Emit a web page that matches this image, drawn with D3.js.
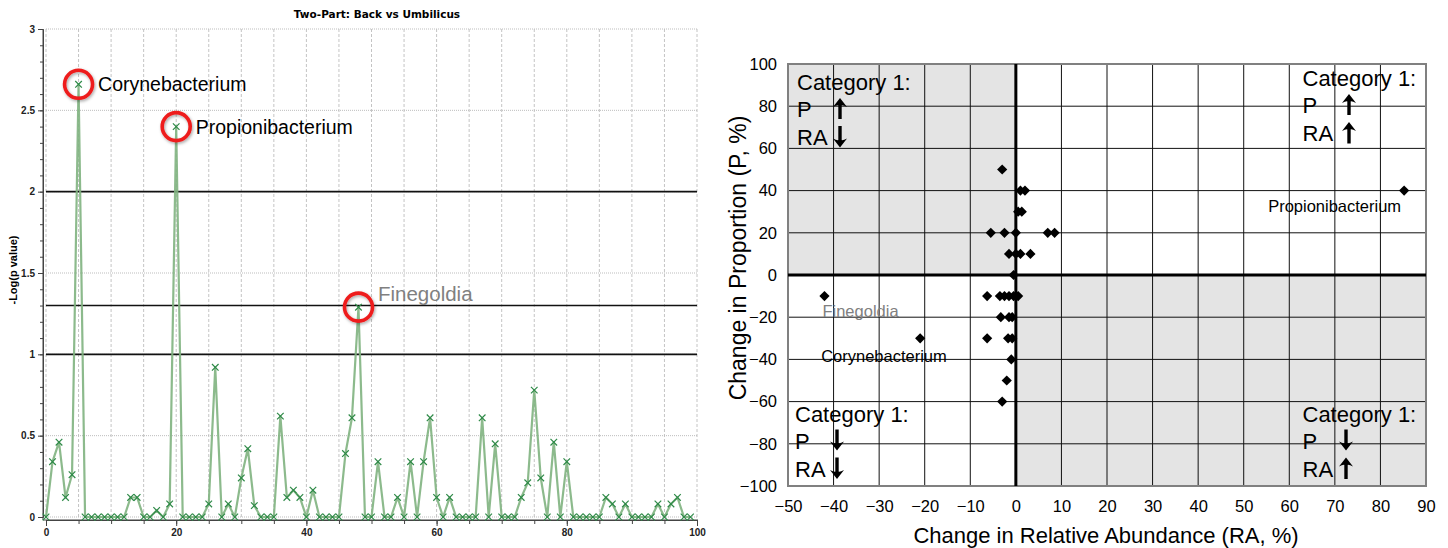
<!DOCTYPE html>
<html>
<head>
<meta charset="utf-8">
<script src="https://cdn.jsdelivr.net/npm/d3@7"></script>
<style>
  html, body { margin: 0; padding: 0; background: #fff; }
  svg { display: block; }
</style>
</head>
<body>
<div id="chart"></div>
<script>
// ---- left chart data: -Log(p value) per genus index ----
const leftTitle = "Two-Part: Back vs Umbilicus";
const pValues = [
  0, 0.34, 0.46, 0.12, 0.26, 2.66, 0, 0, 0, 0,
  0, 0, 0, 0.12, 0.12, 0, 0, 0.04, 0, 0.08,
  2.4, 0, 0, 0, 0, 0.08, 0.92, 0, 0.08, 0,
  0.24, 0.42, 0.07, 0, 0, 0, 0.62, 0.12, 0.165, 0.12,
  0, 0.165, 0, 0, 0, 0, 0.39, 0.61, 1.29, 0,
  0, 0.34, 0, 0, 0.12, 0, 0.34, 0, 0.34, 0.61,
  0.12, 0, 0.12, 0, 0, 0, 0, 0.61, 0, 0.45,
  0, 0, 0, 0.12, 0.21, 0.78, 0.24, 0, 0.46, 0,
  0.34, 0, 0, 0, 0, 0, 0.12, 0.08, 0, 0.08,
  0, 0, 0, 0, 0.08, 0, 0.08, 0.12, 0, 0
];
const thresholds = [2, 1.3, 1];
const highlightIdx = [5, 20, 48];
const highlightNames = ["Corynebacterium", "Propionibacterium", "Finegoldia"];
const highlightColors = ["#000", "#000", "#808080"];
const leftXTicks = [0, 20, 40, 60, 80, 100];

// ---- right chart data: change in RA vs change in P ----
const raChange = [
  -3, 1, 2, 0.5, 1.3, -5.5, -2.5, 0, 7, 8.5,
  -1.5, 0, 1, 3.2, -0.5, -6.3, -3.5, -2.5, -1.5, -0.5,
  0.5, -42, -3.3, -1.5, -0.8, -6.3, -21, -1.7, -0.8, -1,
  -2, -3, 85.2
];
const pChange = [
  50, 40, 40, 30, 30, 20, 20, 20, 20, 20,
  10, 10, 10, 10, 0, -10, -10, -10, -10, -10,
  -10, -10, -20, -20, -20, -30, -30, -30, -30, -40,
  -50, -60, 40
];
const rightLabels = [
  { text: "Propionibacterium", x: 85.2, y: 40, color: "#000" },
  { text: "Finegoldia", x: -42, y: -10, color: "#808080" },
  { text: "Corynebacterium", x: -21, y: -30, color: "#000" }
];
const quadrants = [
  { p: "up", ra: "down", corner: "tl" },
  { p: "up", ra: "up", corner: "tr" },
  { p: "down", ra: "down", corner: "bl" },
  { p: "down", ra: "up", corner: "br" }
];

const W = 1448, H = 548;
const svg = d3.select("#chart").append("svg")
  .attr("width", W).attr("height", H);

const defs = svg.append("defs");
defs.append("filter").attr("id", "shadow")
  .attr("x", "-50%").attr("y", "-50%").attr("width", "200%").attr("height", "200%")
  .append("feDropShadow")
  .attr("dx", 1).attr("dy", 1.5).attr("stdDeviation", 1.4)
  .attr("flood-color", "#000").attr("flood-opacity", 0.35);

drawLeft();
drawRight();

function drawLeft() {
  const x = d3.scaleLinear().domain([0, 100]).range([46, 697]);
  const y = d3.scaleLinear().domain([0, 3]).range([517, 29]);
  const g = svg.append("g");

  // grid
  g.append("g").selectAll("line")
    .data(d3.range(0, 101, 5))
    .join("line")
    .attr("x1", d => x(d)).attr("x2", d => x(d))
    .attr("y1", y(3)).attr("y2", y(0))
    .attr("stroke", "#c4c4c4").attr("stroke-dasharray", "3,2");
  g.append("g").selectAll("line")
    .data(d3.range(0, 3.01, 0.5))
    .join("line")
    .attr("x1", x(0)).attr("x2", x(100))
    .attr("y1", d => y(d)).attr("y2", d => y(d))
    .attr("stroke", "#bdbdbd").attr("stroke-dasharray", "1,1");

  // threshold lines
  g.append("g").selectAll("line")
    .data(thresholds)
    .join("line")
    .attr("x1", x(0)).attr("x2", x(100))
    .attr("y1", d => y(d)).attr("y2", d => y(d))
    .attr("stroke", "#111").attr("stroke-width", 1.6);

  // axes
  const yMinor = d3.axisLeft(y).tickValues(d3.range(0, 3.001, 0.1)).tickSize(3).tickFormat("");
  const yMajor = d3.axisLeft(y).tickValues(d3.range(0, 3.001, 0.5)).tickSize(5).tickPadding(3)
    .tickFormat(d => +d.toFixed(1));
  const yAx = g.append("g").attr("transform", "translate(43,0)");
  yAx.call(yMinor);
  yAx.append("g").call(yMajor);
  const xMinor = d3.axisBottom(x).tickValues(d3.range(0, 101, 5)).tickSize(4).tickFormat("");
  const xMajor = d3.axisBottom(x).tickValues(leftXTicks).tickSize(6).tickPadding(3);
  const xAx = g.append("g").attr("transform", "translate(0,520)");
  xAx.call(xMinor);
  xAx.append("g").call(xMajor);
  [yAx, xAx].forEach(a => {
    a.selectAll("path.domain").attr("stroke", "#444");
    a.selectAll(".tick line").attr("stroke", "#444");
    a.selectAll("text")
      .attr("font-family", "Liberation Sans, Arial, sans-serif")
      .attr("font-size", 10).attr("font-weight", "bold").attr("fill", "#222");
  });
  xAx.select("path.domain").attr("d", `M43,0H${x(100) + 1}`);
  yAx.select("path.domain").attr("d", `M0,${y(3)}V${y(0) + 3}`);

  // series
  const line = d3.line().x((d, i) => x(i)).y(d => y(d));
  g.append("path")
    .datum(pValues)
    .attr("d", line)
    .attr("fill", "none")
    .attr("stroke", "#7fb37f").attr("stroke-width", 2.2)
    .attr("stroke-opacity", 0.9).attr("stroke-linejoin", "round");
  const s = 3.3;
  g.append("g").selectAll("path")
    .data(pValues)
    .join("path")
    .attr("d", (d, i) => `M${x(i) - s},${y(d) - s}L${x(i) + s},${y(d) + s}M${x(i) - s},${y(d) + s}L${x(i) + s},${y(d) - s}`)
    .attr("stroke", "#2f8a48").attr("stroke-width", 1.2).attr("fill", "none");

  // highlight circles and names
  const fontSizes = [19.5, 19.5, 20.5];
  const labelDy = [6.5, 7, -6.5];
  highlightIdx.forEach((idx, k) => {
    g.append("circle")
      .attr("cx", x(idx)).attr("cy", y(pValues[idx])).attr("r", 14)
      .attr("fill", "none").attr("stroke", "#ee1c1c").attr("stroke-width", 3.6)
      .attr("filter", "url(#shadow)");
    g.append("text")
      .attr("x", x(idx) + 19.5).attr("y", y(pValues[idx]) + labelDy[k])
      .attr("font-family", "Liberation Sans, Arial, sans-serif")
      .attr("font-size", fontSizes[k])
      .attr("fill", highlightColors[k])
      .text(highlightNames[k]);
  });

  // title and y label
  svg.append("text")
    .attr("x", 377).attr("y", 18)
    .attr("text-anchor", "middle")
    .attr("font-family", "DejaVu Sans, Verdana, sans-serif")
    .attr("font-size", 10.5).attr("font-weight", "bold")
    .text(leftTitle);
  svg.append("text")
    .attr("transform", "translate(17,270) rotate(-90)")
    .attr("text-anchor", "middle")
    .attr("font-family", "Liberation Sans, Arial, sans-serif")
    .attr("font-size", 11).attr("font-weight", "bold")
    .text("-Log(p value)");
}

function drawRight() {
  const x = d3.scaleLinear().domain([-50, 90]).range([788, 1426]);
  const y = d3.scaleLinear().domain([-100, 100]).range([486, 64]);
  const g = svg.append("g");
  const font = "Liberation Sans, Arial, sans-serif";

  // shaded quadrants
  g.append("rect")
    .attr("x", x(-50)).attr("y", y(100))
    .attr("width", x(0) - x(-50)).attr("height", y(0) - y(100))
    .attr("fill", "#e4e4e4");
  g.append("rect")
    .attr("x", x(0)).attr("y", y(0))
    .attr("width", x(90) - x(0)).attr("height", y(-100) - y(0))
    .attr("fill", "#e4e4e4");

  // grid
  g.append("g").selectAll("line")
    .data(d3.range(-40, 90, 10).filter(d => d !== 0))
    .join("line")
    .attr("x1", d => x(d)).attr("x2", d => x(d))
    .attr("y1", y(100)).attr("y2", y(-100))
    .attr("stroke", "#111").attr("stroke-width", 1);
  g.append("g").selectAll("line")
    .data(d3.range(-80, 100, 20).filter(d => d !== 0))
    .join("line")
    .attr("x1", x(-50)).attr("x2", x(90))
    .attr("y1", d => y(d)).attr("y2", d => y(d))
    .attr("stroke", "#111").attr("stroke-width", 1);

  // frame
  g.append("rect")
    .attr("x", x(-50)).attr("y", y(100))
    .attr("width", x(90) - x(-50)).attr("height", y(-100) - y(100))
    .attr("fill", "none").attr("stroke", "#808080").attr("stroke-width", 2);

  // zero axes
  g.append("line")
    .attr("x1", x(0)).attr("x2", x(0)).attr("y1", y(100)).attr("y2", y(-100))
    .attr("stroke", "#000").attr("stroke-width", 3);
  g.append("line")
    .attr("x1", x(-50)).attr("x2", x(90)).attr("y1", y(0)).attr("y2", y(0))
    .attr("stroke", "#000").attr("stroke-width", 3);

  // tick labels
  const yAx = g.append("g").attr("transform", `translate(${x(-50)},0)`)
    .call(d3.axisLeft(y).tickValues(d3.range(-100, 101, 20)).tickSize(0).tickPadding(11));
  const xAx = g.append("g").attr("transform", `translate(0,${y(-100)})`)
    .call(d3.axisBottom(x).tickValues(d3.range(-50, 91, 10)).tickSize(0).tickPadding(14));
  [yAx, xAx].forEach(a => {
    a.select("path.domain").remove();
    a.selectAll("text").attr("font-family", font).attr("font-size", 16.5).attr("fill", "#000");
  });

  // points
  const diamond = d3.symbol(d3.symbolSquare, 52);
  g.append("g").selectAll("path")
    .data(raChange.map((d, i) => [d, pChange[i]]))
    .join("path")
    .attr("d", diamond)
    .attr("transform", d => `translate(${x(d[0])},${y(d[1])}) rotate(45)`)
    .attr("fill", "#000");

  // point labels
  const labelPos = {
    Propionibacterium: [-136, 21.5],
    Finegoldia: [-2, 21],
    Corynebacterium: [-99, 23.5]
  };
  rightLabels.forEach(l => {
    const off = labelPos[l.text];
    g.append("text")
      .attr("x", x(l.x) + off[0]).attr("y", y(l.y) + off[1])
      .attr("font-family", font).attr("font-size", 16.5)
      .attr("fill", l.color)
      .text(l.text);
  });

  // category boxes
  const boxPos = {
    tl: { tx: 797, ty: 90, ax: 840 },
    tr: { tx: 1302.5, ty: 86, ax: 1349 },
    bl: { tx: 795, ty: 421.5, ax: 837 },
    br: { tx: 1302.5, ty: 421.5, ax: 1346 }
  };
  quadrants.forEach(q => {
    const b = boxPos[q.corner];
    const tg = g.append("g")
      .attr("font-family", font).attr("font-size", 22).attr("fill", "#000");
    tg.append("text").attr("x", b.tx).attr("y", b.ty).text("Category 1:");
    tg.append("text").attr("x", b.tx).attr("y", b.ty + 27).text("P");
    tg.append("text").attr("x", b.tx).attr("y", b.ty + 55).text("RA");
    drawArrow(g, b.ax, b.ty + 8, b.ty + 29, q.p);
    drawArrow(g, b.ax, b.ty + 36, b.ty + 57.5, q.ra);
  });

  // axis titles
  svg.append("text")
    .attr("x", 1106).attr("y", 543)
    .attr("text-anchor", "middle")
    .attr("font-family", font).attr("font-size", 22)
    .text("Change in Relative Abundance (RA, %)");
  svg.append("text")
    .attr("transform", "translate(746,258) rotate(-90)")
    .attr("text-anchor", "middle")
    .attr("font-family", font).attr("font-size", 23)
    .text("Change in Proportion (P, %)");
}

function drawArrow(g, x, top, bottom, dir) {
  const tip = dir === "up" ? top : bottom;
  const tail = dir === "up" ? bottom : top;
  const sgn = dir === "up" ? 1 : -1;
  const headLen = 9, halfW = 7;
  g.append("line")
    .attr("x1", x).attr("x2", x)
    .attr("y1", tail).attr("y2", tip + sgn * headLen * 0.6)
    .attr("stroke", "#000").attr("stroke-width", 3.4);
  g.append("path")
    .attr("d", `M${x},${tip}
      L${x + halfW},${tip + sgn * headLen}
      Q${x + 2},${tip + sgn * (headLen - 3)} ${x},${tip + sgn * (headLen - 1)}
      Q${x - 2},${tip + sgn * (headLen - 3)} ${x - halfW},${tip + sgn * headLen}Z`)
    .attr("fill", "#000");
}
</script>
</body>
</html>
